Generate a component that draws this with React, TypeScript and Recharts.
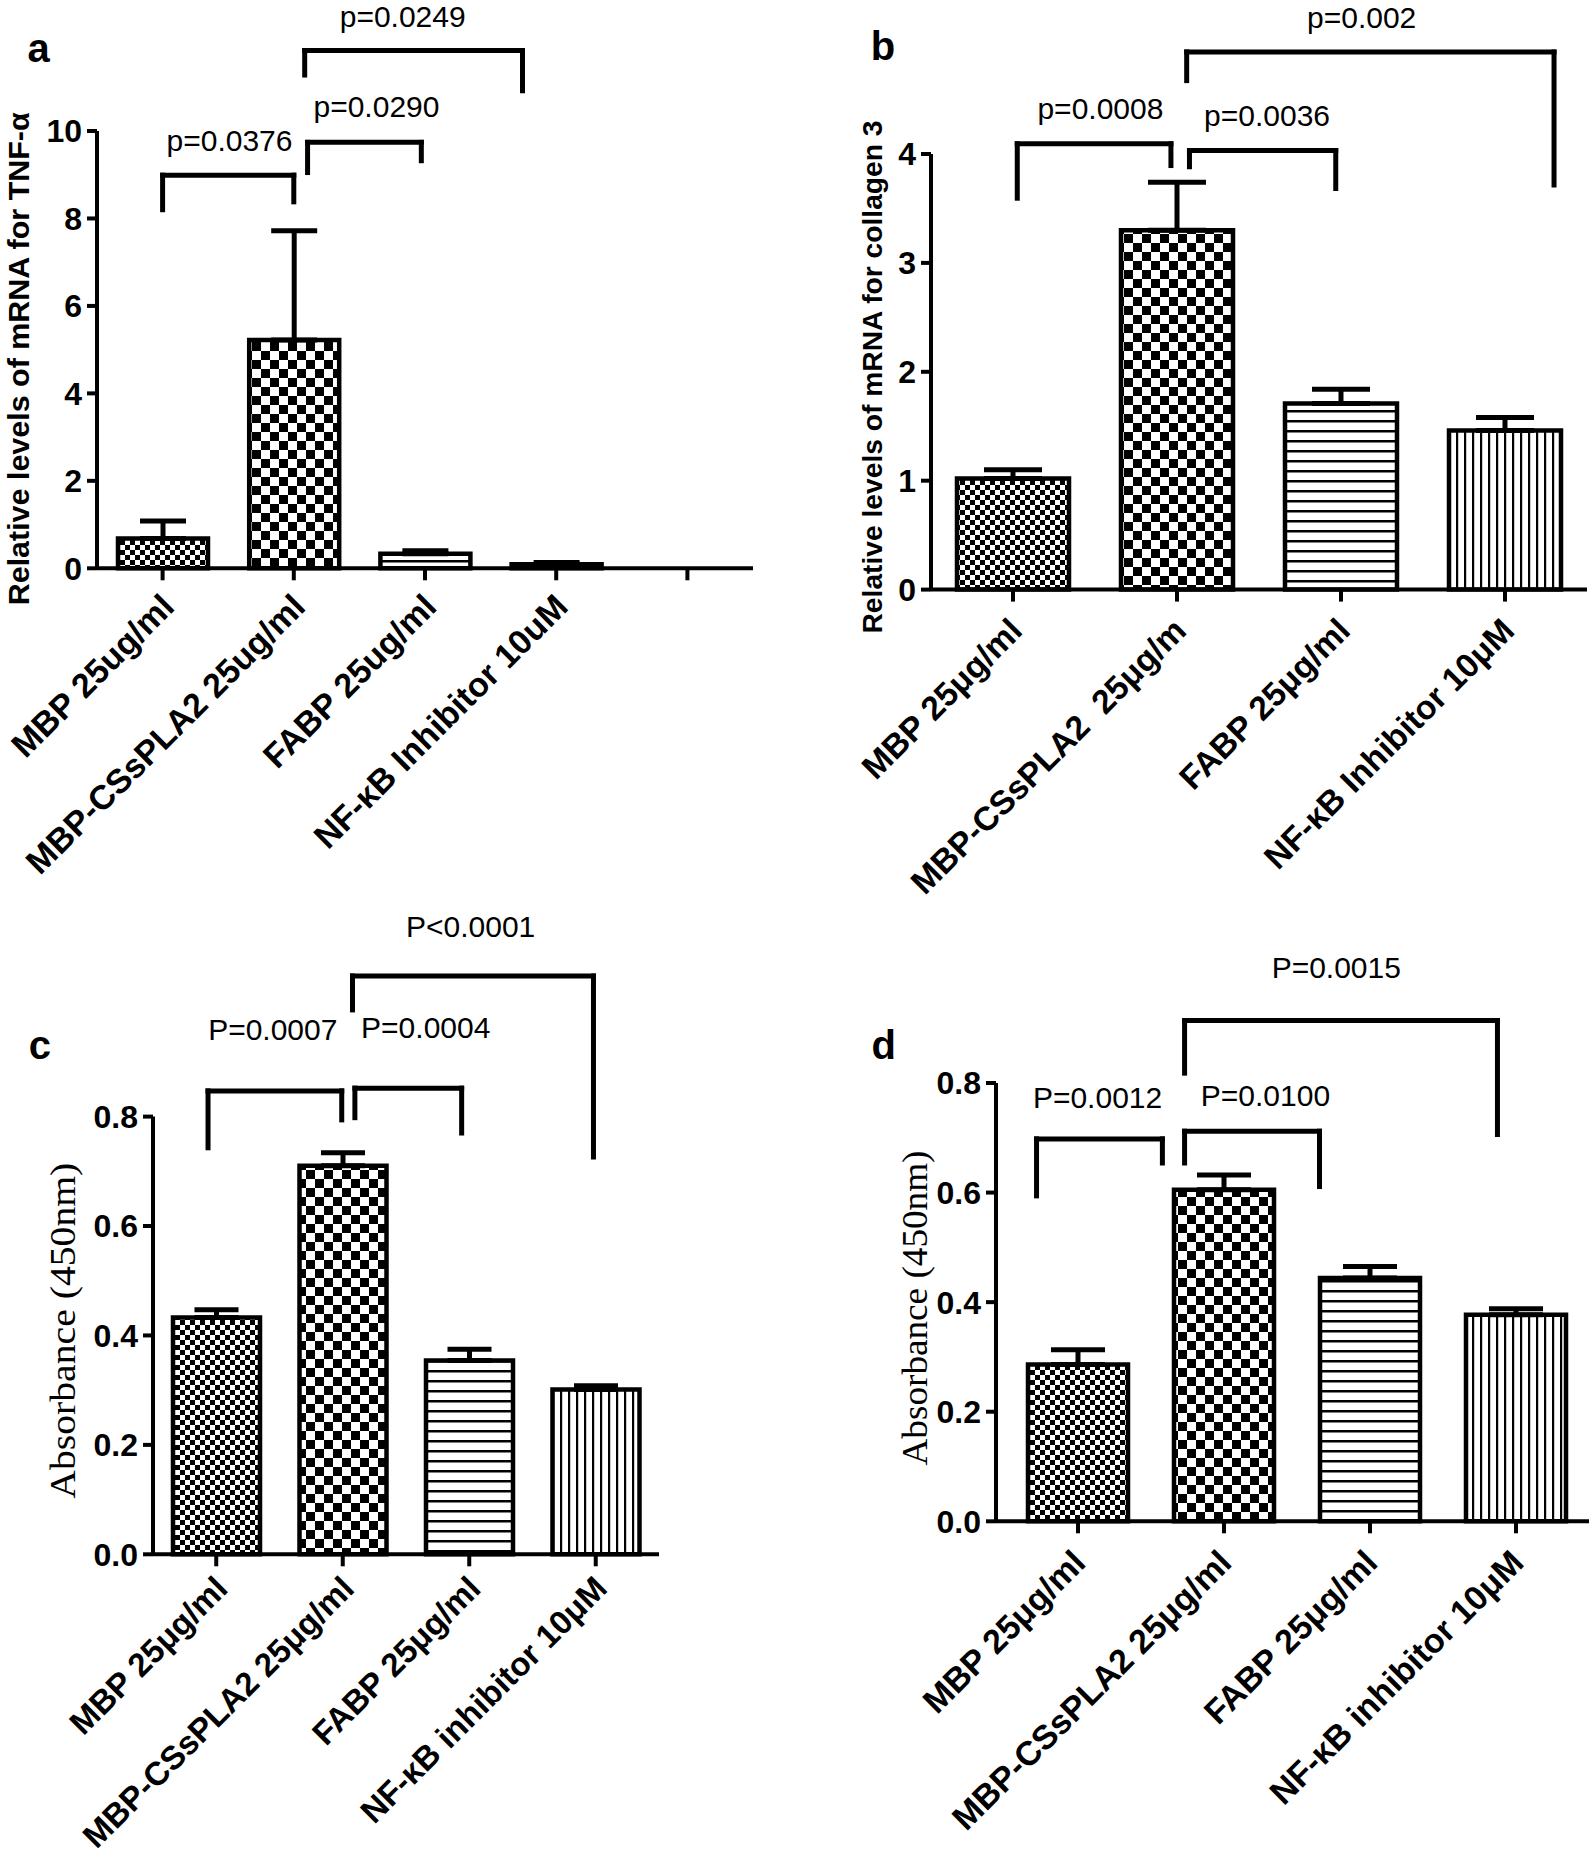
import React from 'react';
import { BarChart, Bar, XAxis, YAxis, ErrorBar, Cell, ReferenceLine, ReferenceDot } from 'recharts';

const SANS = "Arial, 'Liberation Sans', Helvetica, sans-serif";
const SERIF = "'Times New Roman', 'Liberation Serif', Times, serif";

// ---------------- Panel a : TNF-alpha mRNA ----------------
const catsA = ['MBP 25ug/ml', 'MBP-CSsPLA2 25ug/ml', 'FABP 25ug/ml', 'NF-κB Inhibitor 10uM', ''];
const meanA = [0.68, 5.22, 0.33, 0.09];
const semA = [0.4, 2.5, 0.07, 0.04];
const yTicksA = [0, 2, 4, 6, 8, 10];
const sigA = [
  { x1: 0.5, x2: 1.5, y: 8.99, yl: 8.2, yr: 8.38, label: 'p=0.0376', lx: 1.01, ly: 9.78 },
  { x1: 1.605, x2: 2.472, y: 9.74, yl: 9.05, yr: 9.32, label: 'p=0.0290', lx: 2.13, ly: 10.56 },
  { x1: 1.583, x2: 3.243, y: 11.84, yl: 11.28, yr: 10.92, label: 'p=0.0249', lx: 2.33, ly: 12.62 },
];

// ---------------- Panel b : collagen 3 mRNA ----------------
const catsB = ['MBP 25μg/ml', 'MBP-CSsPLA2  25μg/m', 'FABP 25μg/ml', 'NF-κB Inhibitor 10μM'];
const meanB = [1.02, 3.3, 1.71, 1.46];
const semB = [0.08, 0.44, 0.13, 0.12];
const yTicksB = [0, 1, 2, 3, 4];
const sigB = [
  { x1: 0.526, x2: 1.463, y: 4.094, yl: 3.594, yr: 3.894, label: 'p=0.0008', lx: 1.033, ly: 4.42 },
  { x1: 1.576, x2: 2.468, y: 4.031, yl: 3.883, yr: 3.683, label: 'p=0.0036', lx: 2.049, ly: 4.358 },
  { x1: 1.559, x2: 3.799, y: 4.937, yl: 4.674, yr: 3.715, label: 'p=0.002', lx: 2.626, ly: 5.254 },
];

// ---------------- Panel c : absorbance ----------------
const catsC = ['MBP 25μg/ml', 'MBP-CSsPLA2 25μg/ml', 'FABP 25μg/ml', 'NF-κB inhibitor 10μM'];
const meanC = [0.433, 0.71, 0.354, 0.301];
const semC = [0.014, 0.024, 0.021, 0.007];
const yTicksC = [0, 0.2, 0.4, 0.6, 0.8];
const sigC = [
  { x1: 0.435, x2: 1.492, y: 0.847, yl: 0.743, yr: 0.794, label: 'P=0.0007', lx: 0.947, ly: 0.959 },
  { x1: 1.596, x2: 2.44, y: 0.852, yl: 0.798, yr: 0.77, label: 'P=0.0004', lx: 2.156, ly: 0.962 },
  { x1: 1.577, x2: 3.482, y: 1.057, yl: 0.995, yr: 0.726, label: 'P<0.0001', lx: 2.511, ly: 1.148 },
];

// ---------------- Panel d : absorbance ----------------
const catsD = ['MBP 25μg/ml', 'MBP-CSsPLA2 25μg/ml', 'FABP 25μg/ml', 'NF-κB inhibitor 10μM'];
const meanD = [0.286, 0.605, 0.444, 0.377];
const semD = [0.027, 0.027, 0.021, 0.011];
const yTicksD = [0, 0.2, 0.4, 0.6, 0.8];
const sigD = [
  { x1: 0.216, x2: 1.078, y: 0.698, yl: 0.594, yr: 0.654, label: 'P=0.0012', lx: 0.634, ly: 0.773 },
  { x1: 1.23, x2: 2.154, y: 0.712, yl: 0.654, yr: 0.611, label: 'P=0.0100', lx: 1.784, ly: 0.777 },
  { x1: 1.23, x2: 3.373, y: 0.914, yl: 0.818, yr: 0.706, label: 'P=0.0015', lx: 2.269, ly: 1.01 },
];

const fills = ['url(#pFine)', 'url(#pCoarse)', 'url(#pHoriz)', 'url(#pVert)'];

type Sig = { x1: number; x2: number; y: number; yl: number; yr: number; label: string; lx: number; ly: number };

type PanelProps = {
  cats: string[];
  mean: number[];
  sem: number[];
  yTicks: number[];
  sig: Sig[];
  decimals: number;
  box: { left: number; top: number; width: number; height: number };
  margin: { top: number; right: number; bottom: number; left: number };
  yw: number;
  xh: number;
  padL: number;
  barSize: number;
  capHalf: number;
  xdx: number;
  xdy: number;
  xfs: number;
  ylab: { text: string; x: number; y: number; len: number; size: number; font: string; weight: number };
};

function Panel(p: PanelProps) {
  const data = p.mean.map((v, i) => ({ x: i + 0.5, v, e: [0, p.sem[i]] }));
  const xTicks = p.cats.map((_, i) => i + 0.5);
  const yMax = p.yTicks[p.yTicks.length - 1];
  const line = { stroke: '#000', strokeWidth: 5, strokeLinecap: 'square' as const, ifOverflow: 'visible' as const };
  return (
    <div style={{ position: 'absolute', left: p.box.left, top: p.box.top }}>
      <BarChart width={p.box.width} height={p.box.height} data={data} margin={p.margin}>
        <XAxis
          type="number"
          dataKey="x"
          domain={[0, p.cats.length]}
          ticks={xTicks}
          interval={0}
          height={p.xh}
          padding={{ left: p.padL, right: 0 }}
          axisLine={{ stroke: '#000', strokeWidth: 4 }}
          tickLine={{ stroke: '#000', strokeWidth: 4 }}
          tickSize={12}
          tickMargin={0}
          tick={(t: any) => {
            const tx = t.x + p.xdx;
            const ty = t.y + p.xdy;
            return (
              <text
                x={tx}
                y={ty}
                transform={`rotate(-45 ${tx} ${ty})`}
                textAnchor="end"
                dominantBaseline="central"
                fontSize={p.xfs}
                fontWeight={700}
                fontFamily={SANS}
                fill="#000"
                style={{ whiteSpace: 'pre' }}
              >
                {p.cats[Math.floor(t.payload.value)]}
              </text>
            );
          }}
        />
        <YAxis
          type="number"
          domain={[0, yMax]}
          ticks={p.yTicks}
          interval={0}
          width={p.yw}
          axisLine={{ stroke: '#000', strokeWidth: 4 }}
          tickLine={{ stroke: '#000', strokeWidth: 4 }}
          tickSize={10}
          tickMargin={5}
          tick={{ fill: '#000', fontSize: 32, fontWeight: 700, fontFamily: SANS }}
          tickFormatter={(v: number) => v.toFixed(p.decimals)}
          label={{
            content: () => (
              <text
                x={p.ylab.x}
                y={p.ylab.y}
                transform={`rotate(-90 ${p.ylab.x} ${p.ylab.y})`}
                textAnchor="middle"
                dominantBaseline="central"
                fontSize={p.ylab.size}
                fontWeight={p.ylab.weight}
                fontFamily={p.ylab.font}
                textLength={p.ylab.len}
                lengthAdjust="spacingAndGlyphs"
                fill="#000"
              >
                {p.ylab.text}
              </text>
            ),
          }}
        />
        <Bar dataKey="v" barSize={p.barSize} stroke="#000" strokeWidth={4.5} isAnimationActive={false}>
          {data.map((_, i) => (
            <Cell key={i} fill={fills[i]} />
          ))}
          <ErrorBar dataKey="e" direction="y" width={p.capHalf} stroke="#000" strokeWidth={5} isAnimationActive={false} />
        </Bar>
        {p.sig.map((s, i) => (
          <ReferenceLine key={`h${i}`} segment={[{ x: s.x1, y: s.y }, { x: s.x2, y: s.y }]} {...line} />
        ))}
        {p.sig.map((s, i) => (
          <ReferenceLine key={`l${i}`} segment={[{ x: s.x1, y: s.y }, { x: s.x1, y: s.yl }]} {...line} />
        ))}
        {p.sig.map((s, i) => (
          <ReferenceLine key={`r${i}`} segment={[{ x: s.x2, y: s.y }, { x: s.x2, y: s.yr }]} {...line} />
        ))}
        {p.sig.map((s, i) => (
          <ReferenceDot
            key={`t${i}`}
            x={s.lx}
            y={s.ly}
            r={1}
            ifOverflow="visible"
            shape={(d: any) => (
              <text
                x={d.cx}
                y={d.cy}
                textAnchor="middle"
                dominantBaseline="central"
                fontSize={30}
                fontFamily={SANS}
                fill="#000"
              >
                {s.label}
              </text>
            )}
          />
        ))}
      </BarChart>
    </div>
  );
}

export default function App() {
  return (
    <div style={{ position: 'absolute', left: 0, top: 0, width: 1591, height: 1860, background: '#fff', overflow: 'hidden' }}>
      <svg width={0} height={0} style={{ position: 'absolute' }}>
        <defs>
          <pattern id="pFine" width={10} height={10} patternUnits="userSpaceOnUse">
            <rect width={10} height={10} fill="#fff" />
            <rect width={5} height={5} fill="#000" />
            <rect x={5} y={5} width={5} height={5} fill="#000" />
          </pattern>
          <pattern id="pCoarse" width={18} height={18} patternUnits="userSpaceOnUse">
            <rect width={18} height={18} fill="#fff" />
            <rect width={9} height={9} fill="#000" />
            <rect x={9} y={9} width={9} height={9} fill="#000" />
          </pattern>
          <pattern id="pHoriz" width={10} height={10} patternUnits="userSpaceOnUse">
            <rect width={10} height={10} fill="#fff" />
            <rect width={10} height={2.5} fill="#000" />
          </pattern>
          <pattern id="pVert" width={8} height={8} patternUnits="userSpaceOnUse">
            <rect width={8} height={8} fill="#fff" />
            <rect width={2.2} height={8} fill="#000" />
          </pattern>
        </defs>
      </svg>

      <Panel
        cats={catsA}
        mean={meanA}
        sem={semA}
        yTicks={yTicksA}
        sig={sigA}
        decimals={0}
        box={{ left: 0, top: 0, width: 800, height: 900 }}
        margin={{ top: 131, right: 47, bottom: 31.7, left: 0 }}
        yw={97}
        xh={300}
        padL={0}
        barSize={90}
        capHalf={23}
        xdx={5}
        xdy={20}
        xfs={34}
        ylab={{ text: 'Relative levels of mRNA for TNF-α', x: 18.4, y: 358.8, len: 493, size: 30, font: SANS, weight: 700 }}
      />
      <Panel
        cats={catsB}
        mean={meanB}
        sem={semB}
        yTicks={yTicksB}
        sig={sigB}
        decimals={0}
        box={{ left: 800, top: 0, width: 791, height: 910 }}
        margin={{ top: 154, right: 4, bottom: 40.4, left: 0 }}
        yw={131}
        xh={280}
        padL={0}
        barSize={112}
        capHalf={29}
        xdx={3}
        xdy={23}
        xfs={33.5}
        ylab={{ text: 'Relative levels of mRNA for collagen 3', x: 72.5, y: 377, len: 513, size: 28, font: SANS, weight: 700 }}
      />
      <Panel
        cats={catsC}
        mean={meanC}
        sem={semC}
        yTicks={yTicksC}
        sig={sigC}
        decimals={1}
        box={{ left: 0, top: 900, width: 800, height: 960 }}
        margin={{ top: 216.6, right: 141, bottom: 25.7, left: 0 }}
        yw={153}
        xh={280}
        padL={0}
        barSize={87}
        capHalf={22}
        xdx={5}
        xdy={16}
        xfs={33}
        ylab={{ text: 'Absorbance (450nm)', x: 63, y: 430.7, len: 336, size: 36, font: SERIF, weight: 400 }}
      />
      <Panel
        cats={catsD}
        mean={meanD}
        sem={semD}
        yTicks={yTicksD}
        sig={sigD}
        decimals={1}
        box={{ left: 800, top: 900, width: 791, height: 960 }}
        margin={{ top: 183, right: 2, bottom: 38.7, left: 0 }}
        yw={196}
        xh={300}
        padL={9}
        barSize={100}
        capHalf={27}
        xdx={1}
        xdy={23}
        xfs={34}
        ylab={{ text: 'Absorbance (450nm)', x: 114.8, y: 408, len: 315, size: 36, font: SERIF, weight: 400 }}
      />

      <svg width={1591} height={1860} style={{ position: 'absolute', left: 0, top: 0, pointerEvents: 'none' }}>
        <text x={27.6} y={62} fontSize={40} fontWeight={700} fontFamily={SANS} fill="#000">a</text>
        <text x={870.8} y={60.3} fontSize={40} fontWeight={700} fontFamily={SANS} fill="#000">b</text>
        <text x={28.8} y={1059} fontSize={40} fontWeight={700} fontFamily={SANS} fill="#000">c</text>
        <text x={871.6} y={1059} fontSize={40} fontWeight={700} fontFamily={SANS} fill="#000">d</text>
      </svg>
    </div>
  );
}
